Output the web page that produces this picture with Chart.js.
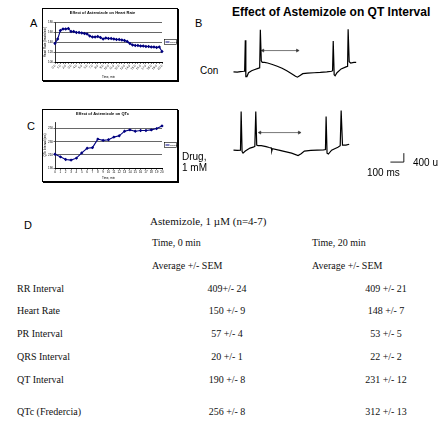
<!DOCTYPE html>
<html>
<head>
<meta charset="utf-8">
<script src="https://cdn.jsdelivr.net/npm/chart.js@4.4.1/dist/chart.umd.min.js"></script>
<style>
  html, body { margin: 0; padding: 0; background: #fff; }
  #page { position: relative; width: 438px; height: 426px; overflow: hidden; font-family: "Liberation Sans", Arial, sans-serif; color: #000; }
  .abs { position: absolute; white-space: nowrap; line-height: 1; }
  .frame { position: absolute; box-sizing: border-box; border: 1px solid #000; box-shadow: 1px 1px 0 #000; }
  canvas { position: absolute; }
  .lbl { font-size: 11px; }
  .txt { font-size: 10px; }
  .serif { font-family: "Liberation Serif", "Times New Roman", serif; font-size: 10px; color: #111; }
</style>
</head>
<body>
<div id="page">
  <div class="abs lbl" style="left:30px; top:18px;">A</div>
  <div class="abs lbl" style="left:195px; top:18px;">B</div>
  <div class="abs lbl" style="left:27px; top:121px;">C</div>
  <div class="abs lbl" style="left:24px; top:220px;">D</div>

  <div class="frame" style="left:42px; top:8px; width:136px; height:73px;"></div>
  <canvas id="chartA" width="134" height="70" style="left:43px; top:9px;"></canvas>
  <div class="frame" style="left:42px; top:109px; width:136px; height:73px;"></div>
  <canvas id="chartC" width="134" height="70" style="left:43px; top:110px;"></canvas>

  <div class="abs" style="left:232px; top:5.5px; font-size:12px; font-weight:bold;">Effect of Astemizole on QT Interval</div>
  <canvas id="traceCon" width="218" height="80" style="left:220px; top:15px;"></canvas>
  <canvas id="traceDrug" width="218" height="85" style="left:220px; top:95px;"></canvas>
  <div class="abs txt" style="left:200px; top:65.5px;">Con</div>
  <div class="abs txt" style="left:182px; top:151.5px;">Drug,</div>
  <div class="abs txt" style="left:182px; top:162.5px;">1 mM</div>
  <div class="abs txt" style="left:367px; top:167.5px;">100 ms</div>
  <div class="abs txt" style="left:413px; top:157.5px;">400 u</div>

  <div class="abs serif" style="left:150px; top:216px; font-size:11px;">Astemizole, 1 µM (n=4-7)</div>
  <div id="table"></div>
</div>

<script>
// panel A: heart rate over 20 min
const aTimeLabels = ["0.0","0.5","1.0","1.5","2.0","2.5","3.0","3.5","4.0","4.5","5.0","5.5","6.0","6.5","7.0","7.5","8.0","8.5","9.0","9.5","10.0",
  "10.5","11.0","11.5","12.0","12.5","13.0","13.5","14.0","14.5","15.0","15.5","16.0","16.5","17.0","17.5","18.0","18.5","19.0","19.5","20.0"];
const aHeartRate = [137,146,163,166,166,167,161,161,159,159,158,157,156,152,150,150,151,149,146,148,147,
  147,146,145,145,144,143,141,137,134,133,133,132,132,131,131,130,130,129,130,121];

// panel C: QTc over 20 min
const cTimeLabels = ["0","1","2","3","4","5","6","7","8","9","10","11","12","13","14","15","16","17","18","19","20"];
const cQTc = [211,207,203,202,205,213,220,221,234,232,233,237,239,246,248,246,247,247,248,250,254];

// panel B: ECG traces (ms, µV)
const conMs = [67,95,119,143,150,155,159,167,179,202,226,250,262,267,274,281,298,321,357,393,429,464,500,529,543,
  560,583,619,667,714,762,798,805,810,817,824,838,869,905,917,921,929,940,964,981];
const conUv = [0,-13,13,27,40,1427,-213,-213,-40,53,107,160,187,1893,493,427,427,400,333,253,160,53,-80,-200,-240,
  -173,-80,-53,-40,-27,0,27,53,1387,-133,-173,-40,133,227,253,1920,453,400,427,427];
const drugMs = [67,95,119,124,131,138,155,190,214,226,233,240,250,274,310,333,350,352,357,405,
  452,500,548,571,595,643,690,738,752,757,764,774,798,821,845,862,869,879,905,929];
const drugUv = [0,-13,0,1733,-67,-133,-40,93,133,173,1733,227,200,200,160,120,93,-40,67,0,
  -67,-133,-240,-160,-40,-13,0,13,27,1507,-133,-173,0,67,133,200,1773,227,227,267];
const conArrowMs = [286, 543];
const conArrowUv = [960, 960];
const drugArrowMs = [264, 557];
const drugArrowUv = [787, 787];
const scaleBarMs = [1236, 1336, 1336];
const scaleBarUv = [-533, -533, -133];

// panel D: table
const rowNames = ["RR Interval","Heart Rate","PR Interval","QRS Interval","QT Interval","QTc (Fredercia)"];
const time0Values = ["409+/- 24","150 +/- 9","57 +/- 4","20 +/- 1","190 +/- 8","256 +/- 8"];
const time20Values = ["409 +/- 21","148 +/- 7","53 +/- 5","22 +/- 2","231 +/- 12","312 +/- 13"];

Chart.defaults.font.family = '"Liberation Sans", Arial, sans-serif';
Chart.defaults.color = "#000";

const boxLegend = {
  id: "boxLegend",
  afterDraw(chart) {
    const ctx = chart.ctx, area = chart.chartArea;
    const ds = chart.data.datasets[0];
    const w = 12, h = 5;
    const x = area.right + 2.5, y = (area.top + area.bottom) / 2 - h / 2;
    ctx.save();
    ctx.fillStyle = "#fff";
    ctx.fillRect(x, y, w, h);
    ctx.strokeStyle = "#000";
    ctx.lineWidth = 0.6;
    ctx.strokeRect(x, y, w, h);
    ctx.strokeStyle = ds.borderColor;
    ctx.lineWidth = 1;
    ctx.beginPath();
    ctx.moveTo(x + 1, y + h / 2);
    ctx.lineTo(x + 5, y + h / 2);
    ctx.stroke();
    ctx.fillStyle = "#000";
    ctx.font = '2.5px "Liberation Sans"';
    ctx.textBaseline = "middle";
    ctx.fillText(ds.label, x + 5.6, y + h / 2);
    ctx.restore();
  }
};

function smallChart(id, labels, values, yMin, yMax, title, yTitle, titleBottom, xHeight, rotate, everyOther) {
  return new Chart(document.getElementById(id), {
    type: "line",
    data: {
      labels: labels,
      datasets: [{
        label: "Series1",
        data: values,
        borderColor: "#000080",
        backgroundColor: "#000080",
        borderWidth: 1.1,
        pointStyle: "rectRot",
        pointRadius: 0.9,
        tension: 0
      }]
    },
    options: {
      responsive: false,
      animation: false,
      layout: { padding: { left: 0, right: 15, top: 0, bottom: 0 } },
      plugins: {
        legend: { display: false },
        tooltip: { enabled: false },
        title: { display: true, text: title, font: { size: 4, weight: "bold" }, padding: { top: 1.5, bottom: titleBottom } }
      },
      scales: {
        x: {
          ticks: {
            font: { size: 3 }, maxRotation: rotate, minRotation: rotate, autoSkip: false, padding: 0.5,
            callback(v, i) { return everyOther && i % 2 ? "" : this.getLabelForValue(v); }
          },
          grid: { drawOnChartArea: false, color: "#000", tickLength: 1.5 },
          border: { color: "#000", width: 1 },
          title: { display: true, text: "Time, min", font: { size: 3 }, padding: { top: 0, bottom: 0.5 } },
          afterFit(s) { s.height = xHeight; }
        },
        y: {
          min: yMin, max: yMax,
          ticks: { font: { size: 3 }, stepSize: 10, padding: 0.5 },
          grid: { color: "#000", lineWidth: 0.6, tickLength: 1.5 },
          border: { color: "#000", width: 0.8 },
          title: { display: true, text: yTitle, font: { size: 3 }, padding: 0 },
          afterFit(s) { s.width = 12; }
        }
      }
    },
    plugins: [boxLegend]
  });
}

smallChart("chartA", aTimeLabels, aHeartRate, 100, 180, "Effect of Astemizole on Heart Rate", "Heart Rate (beats/min)", 6.7, 17, 45, true);
smallChart("chartC", cTimeLabels, cQTc, 190, 260, "Effect of Astemizole on QTc", "QTc Interval (ms)", 5.7, 12, 0, false);

function points(xs, ys) { return xs.map((x, i) => ({ x: x, y: ys[i] })); }

function traceChart(id, ms, uv, arrowMs, arrowUv, yMin, yMax, extra) {
  const datasets = [{
    data: points(ms, uv), borderColor: "#000", borderWidth: 1.2, pointRadius: 0, tension: 0
  }, {
    data: points(arrowMs, arrowUv), borderColor: "#555", borderWidth: 0.8,
    pointStyle: "triangle", pointRadius: 1.8, pointRotation: [-90, 90],
    pointBackgroundColor: "#333", pointBorderColor: "#333", pointBorderWidth: 0.5, tension: 0
  }];
  if (extra) datasets.push(extra);
  return new Chart(document.getElementById(id), {
    type: "line",
    data: { datasets: datasets },
    options: {
      responsive: false,
      animation: false,
      layout: { padding: 0 },
      plugins: { legend: { display: false }, tooltip: { enabled: false } },
      scales: {
        x: { type: "linear", display: false, min: 0, max: 1557 },
        y: { display: false, min: yMin, max: yMax }
      }
    }
  });
}

traceChart("traceCon", conMs, conUv, conArrowMs, conArrowUv, -840, 2360);
traceChart("traceDrug", drugMs, drugUv, drugArrowMs, drugArrowUv, -1133, 2267, {
  data: points(scaleBarMs, scaleBarUv), borderColor: "#000", borderWidth: 0.9, pointRadius: 0, tension: 0
});

// table D
const table = document.getElementById("table");
function cell(text, left, top, center) {
  const d = document.createElement("div");
  d.className = "abs serif";
  d.textContent = text;
  d.style.top = top + "px";
  if (center) {
    d.style.left = (left - 60) + "px";
    d.style.width = "120px";
    d.style.textAlign = "center";
  } else {
    d.style.left = left + "px";
  }
  table.appendChild(d);
}
cell("Time, 0 min", 152, 237.5);
cell("Time, 20 min", 312, 237.5);
cell("Average  +/-  SEM", 152, 260.5);
cell("Average  +/-  SEM", 312, 260.5);
const rowTops = [283.5, 305.5, 328.5, 351.5, 374.5, 406.5];
rowNames.forEach((name, i) => {
  cell(name, 17, rowTops[i]);
  cell(time0Values[i], 227, rowTops[i], true);
  cell(time20Values[i], 386, rowTops[i], true);
});
</script>
</body>
</html>
